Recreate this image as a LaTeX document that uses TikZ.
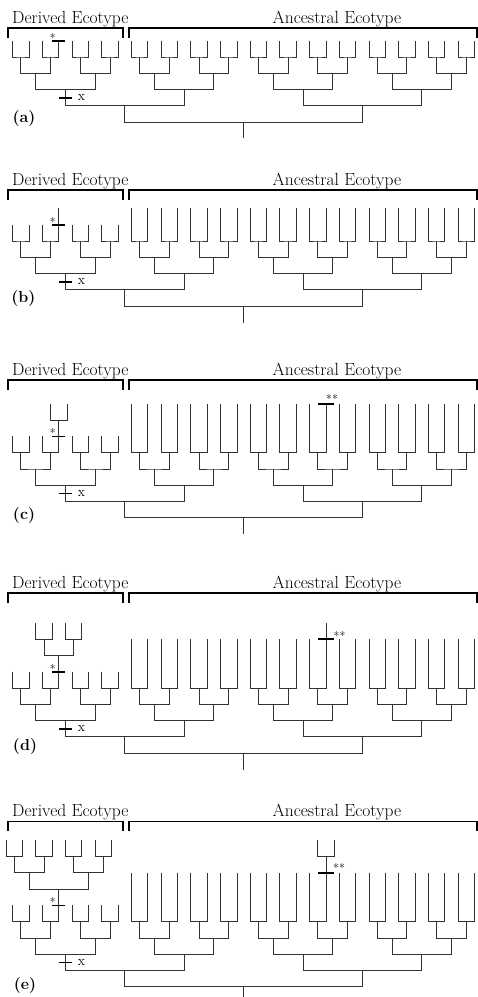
\documentclass[tikz,border=0pt]{standalone}
\usepackage{fontspec}
\begin{document}
\begin{tikzpicture}[x=1pt,y=-1pt,
  branch/.style={line width=0.85pt, draw=black!80},
  bracketline/.style={line width=1.4pt, draw=black},
  mutbar/.style={line width=1.8pt, draw=black},
  headtext/.style={font=\fontsize{17.5}{20}\selectfont, inner sep=0pt, anchor=base west},
  panellbl/.style={font=\fontsize{16}{19}\selectfont\bfseries, inner sep=0pt},
  marklbl/.style={font=\fontsize{12}{14}\selectfont, inner sep=0pt},
  xlbl/.style={font=\fontsize{14}{16}\selectfont, inner sep=0pt}]
\useasboundingbox (0,0) rectangle (478,997);
\def\hh{16.3}
\def\lthree{58.79}
\def\ltwo{326.0}
% ---------- macros ----------
\newcommand\mydeftree[4]{% prefix, pair level y, derived top levels, ancestral top levels
  \foreach \i in {0,...,31}{%
    \pgfmathsetmacro\lx{12.7+29.69*floor(\i/2)+16.4*mod(\i,2)}%
    \pgfmathsetmacro\ly{\i<8 ? #2-#3*\hh : #2-#4*\hh}%
    \coordinate (#1L\i) at (\lx,\ly);}%
  \foreach \k in {0,...,15}{%
    \pgfmathsetmacro\px{20.9+29.69*\k}%
    \coordinate (#1P\k) at (\px,#2);}%
  \foreach \k in {0,...,7}{%
    \pgfmathsetmacro\qx{20.9+29.69*(2*\k+0.5)}%
    \coordinate (#1Q\k) at (\qx,#2+\hh);}%
  \foreach \k in {0,...,3}{%
    \pgfmathsetmacro\ox{20.9+29.69*(4*\k+1.5)}%
    \coordinate (#1O\k) at (\ox,#2+2*\hh);}%
  \coordinate (#1A) at (20.9+29.69*3.5,#2+3*\hh);
  \coordinate (#1B) at (20.9+29.69*11.5,#2+3*\hh);
  \coordinate (#1R) at (20.9+29.69*7.5,#2+4*\hh);
  \coordinate (#1X) at (20.9+29.69*1.5,#2+2.5*\hh);
}
\newcommand\mydrawtree[2]{% prefix, root stem end y
  \foreach \k in {0,...,15}{%
    \pgfmathtruncatemacro\ia{2*\k}\pgfmathtruncatemacro\ib{2*\k+1}%
    \draw[branch] (#1L\ia) |- (#1P\k) -| (#1L\ib);}%
  \foreach \k in {0,...,7}{%
    \pgfmathtruncatemacro\ia{2*\k}\pgfmathtruncatemacro\ib{2*\k+1}%
    \draw[branch] (#1P\ia) |- (#1Q\k) -| (#1P\ib);}%
  \foreach \k in {0,...,3}{%
    \pgfmathtruncatemacro\ia{2*\k}\pgfmathtruncatemacro\ib{2*\k+1}%
    \draw[branch] (#1Q\ia) |- (#1O\k) -| (#1Q\ib);}%
  \draw[branch] (#1O0) |- (#1A) -| (#1O1);
  \draw[branch] (#1O2) |- (#1B) -| (#1O3);
  \draw[branch] (#1A) |- (#1R) -| (#1B);
  \coordinate (#1E) at (20.9+29.69*7.5,#2);
  \draw[branch] (#1R) -- (#1E);
  % x mutation on derived clade stem
  \draw[mutbar] ([xshift=-6.5pt]#1X) -- ([xshift=6.5pt]#1X);
  \node[xlbl] (#1xlab) at ([xshift=16pt]#1X) {x};
}
\newcommand\myheader[2]{% prefix, bracket y
  \coordinate (#1h1) at (8,#2); \coordinate (#1h2) at (123,#2);
  \coordinate (#1h3) at (129,#2); \coordinate (#1h4) at (477,#2);
  \draw[bracketline] (#1h1) ++(0,9.5) -- (#1h1) -- (#1h2) -- ++(0,9.5);
  \draw[bracketline] (#1h3) ++(0,9.5) -- (#1h3) -- (#1h4) -- ++(0,9.5);
  \node[headtext] (#1dt) at (12,#2-5) {Derived Ecotype};
  \node[headtext] (#1at) at (272.5,#2-5) {Ancestral Ecotype};
}
\newcommand\mystar[2]{% prefix, coordinate of bar
  \draw[mutbar] ([xshift=-6.5pt]#2) -- ([xshift=6.5pt]#2);
  \node[marklbl] (#1star) at ([xshift=-6pt,yshift=3pt]#2) {*};
}
\newcommand\mydstar[4]{% prefix, coordinate of bar, xshift, yshift
  \draw[mutbar] ([xshift=-8pt]#2) -- ([xshift=8pt]#2);
  \node[marklbl] (#1dstar) at ([xshift=#3,yshift=#4]#2) {**};
}
% ---------- panel (a) ----------
\myheader{a}{28}
\mydeftree{a}{57}{1}{1}
\mydrawtree{a}{138}
\mystar{a}{aL3}
\node[panellbl] (alab) at (24,118.5) {(a)};
% ---------- panel (b) ----------
\myheader{b}{190}
\mydeftree{b}{241}{1}{2}
\coordinate (bL3) at (\lthree,241-2*\hh);
\coordinate (bS) at (\lthree,241-\hh);
\mydrawtree{b}{322.7}
\mystar{b}{bS}
\node[panellbl] (blab) at (23.5,299) {(b)};
% ---------- panel (c) ----------
\myheader{c}{380}
\mydeftree{c}{452.7}{1}{3}
\coordinate (cL3) at (\lthree,452.7-2*\hh);
\coordinate (cS) at (\lthree,452.7-\hh);
\coordinate (cX0) at (\lthree-8.2,452.7-3*\hh);
\coordinate (cX1) at (\lthree+8.2,452.7-3*\hh);
\mydrawtree{c}{533.5}
\draw[branch] (cX0) |- (cL3) -| (cX1);
\mystar{c}{cS}
\mydstar{c}{cL21}{6pt}{5pt}
\node[panellbl] (clab) at (24,515) {(c)};
% ---------- panel (d) ----------
\myheader{d}{593}
\mydeftree{d}{688}{1}{3}
\coordinate (dL3) at (\lthree,688-2*\hh);
\coordinate (dS) at (\lthree,688-\hh);
\coordinate (dU0) at (\lthree-14.845,688-3*\hh);
\coordinate (dU1) at (\lthree+14.845,688-3*\hh);
\coordinate (dV0) at (\lthree-14.845-8.2,688-4*\hh);
\coordinate (dV1) at (\lthree-14.845+8.2,688-4*\hh);
\coordinate (dV2) at (\lthree+14.845-8.2,688-4*\hh);
\coordinate (dV3) at (\lthree+14.845+8.2,688-4*\hh);
\coordinate (dL21) at (\ltwo,688-4*\hh);
\coordinate (dS2) at (\ltwo,688-3*\hh);
\mydrawtree{d}{769.7}
\draw[branch] (dV0) |- (dU0) -| (dV1);
\draw[branch] (dV2) |- (dU1) -| (dV3);
\draw[branch] (dU0) |- (dL3) -| (dU1);
\mystar{d}{dS}
\mydstar{d}{dS2}{13.5pt}{3pt}
\node[panellbl] (dlab) at (25,746.5) {(d)};
% ---------- panel (e) ----------
\myheader{e}{821.7}
\mydeftree{e}{921.7}{1}{3}
\coordinate (eL3) at (\lthree,921.7-2*\hh);
\coordinate (eS) at (\lthree,921.7-\hh);
\coordinate (eU0) at (\lthree-29.69,921.7-3*\hh);
\coordinate (eU1) at (\lthree+29.69,921.7-3*\hh);
\foreach \j/\c in {0/-44.535,1/-14.845,2/14.845,3/44.535}{%
  \coordinate (eV\j) at (\lthree+\c,921.7-4*\hh);
  \pgfmathtruncatemacro\wa{2*\j}\pgfmathtruncatemacro\wb{2*\j+1}%
  \coordinate (eW\wa) at (\lthree+\c-8.2,921.7-5*\hh);
  \coordinate (eW\wb) at (\lthree+\c+8.2,921.7-5*\hh);}
\coordinate (eL21) at (\ltwo,921.7-4*\hh);
\coordinate (eY0) at (\ltwo-8.2,921.7-5*\hh);
\coordinate (eY1) at (\ltwo+8.2,921.7-5*\hh);
\coordinate (eS2) at (\ltwo,921.7-3*\hh);
\mydrawtree{e}{997}
\draw[branch] (eW0) |- (eV0) -| (eW1);
\draw[branch] (eW2) |- (eV1) -| (eW3);
\draw[branch] (eW4) |- (eV2) -| (eW5);
\draw[branch] (eW6) |- (eV3) -| (eW7);
\draw[branch] (eV0) |- (eU0) -| (eV1);
\draw[branch] (eV2) |- (eU1) -| (eV3);
\draw[branch] (eU0) |- (eL3) -| (eU1);
\draw[branch] (eY0) |- (eL21) -| (eY1);
\mystar{e}{eS}
\mydstar{e}{eS2}{13pt}{5pt}
\node[panellbl] (elab) at (25,985) {(e)};
\end{tikzpicture}
\end{document}
